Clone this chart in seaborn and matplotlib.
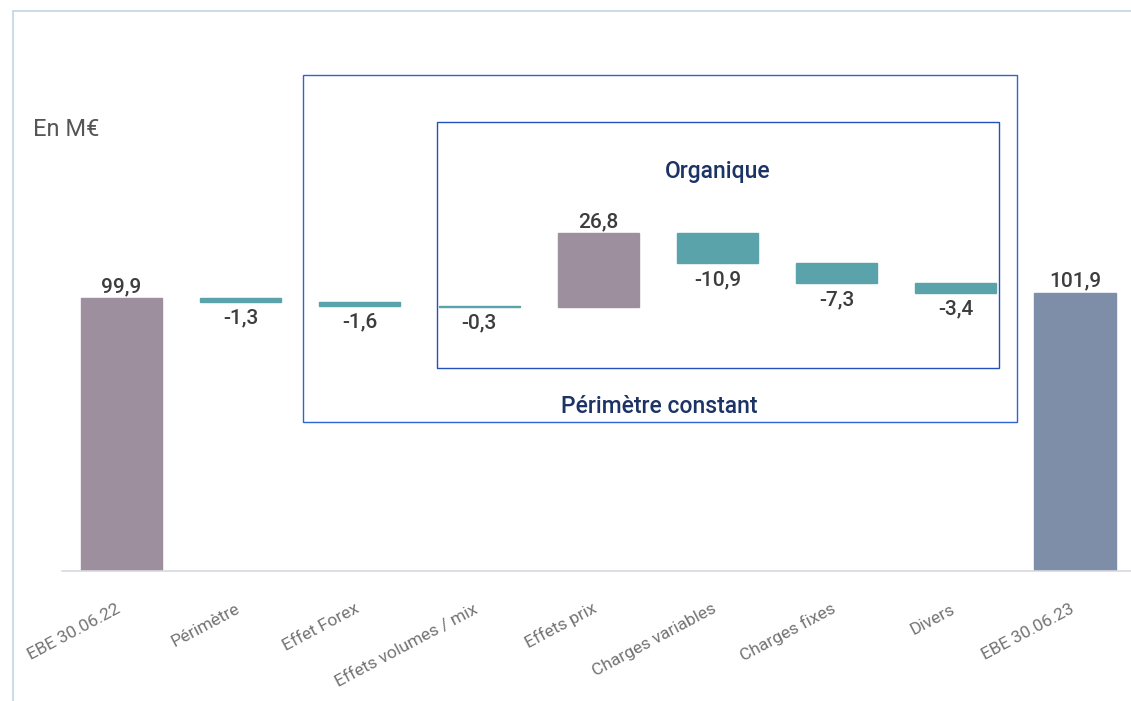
import numpy as np
import matplotlib
matplotlib.use('Agg')
import matplotlib.pyplot as plt
import seaborn as sns
from matplotlib.patches import Rectangle
from matplotlib.lines import Line2D


categories = ['EBE 30.06.22', 'Périmètre', 'Effet Forex', 'Effets volumes / mix', 'Effets prix',
              'Charges variables', 'Charges fixes', 'Divers', 'EBE 30.06.23']
values = [99.9, -1.3, -1.6, -0.3, 26.8, -10.9, -7.3, -3.4, 101.9]
is_total = [True, False, False, False, False, False, False, False, True]

PURPLE = '#9d8f9e'
TEAL = '#5ba3ab'
SLATE = '#7f8ea8'
BOX_OUT = '#2f62d2'
BOX_IN = '#2450bd'
NAVY = '#1c3366'


# waterfall: start of each bar from the running total
bottoms, heights = [], []
running = 0
for v, tot in zip(values, is_total):
    if tot:
        bottoms.append(0)
        heights.append(v)
        running = v
    else:
        bottoms.append(running)
        heights.append(v)
        running += v
colors = [PURPLE if tot or v > 0 else TEAL for v, tot in zip(values, is_total)]
colors[-1] = SLATE

sns.set_theme(style='white')
plt.rcParams['font.family'] = ['Roboto', 'DejaVu Sans']

fig = plt.figure(figsize=(11.31, 7.01), dpi=100)
ax = fig.add_axes([62/1131, 130/701, 1 - 62/1131, 560/701])

sns.barplot(x=categories, y=heights, bottom=bottoms, width=0.68, color=TEAL, ax=ax,
            linewidth=1, saturation=1)
for patch, c in zip(ax.patches, colors):
    patch.set_facecolor(c)
    patch.set_edgecolor(c)

ax.set_xlim(-0.5, 8.47)
ax.set_ylim(0, 204.9)
ax.set_yticks([])
for s in ['top', 'right', 'left']:
    ax.spines[s].set_visible(False)
ax.spines['bottom'].set_color('#d6d9de')
ax.spines['bottom'].set_linewidth(1.2)

ax.tick_params(axis='x', length=0, pad=29.5, labelsize=12.5, labelcolor='#737373')
for lab in ax.get_xticklabels():
    lab.set_rotation(28)
    lab.set_ha('right')
    lab.set_va('baseline')
    lab.set_rotation_mode('anchor')

# value labels
for i, (v, b, tot) in enumerate(zip(values, bottoms, is_total)):
    txt = f'{v:.1f}'.replace('.', ',')
    if tot or v > 0:
        ax.annotate(txt, (i, b + v), xytext=(0, 1.5), textcoords='offset points',
                    ha='center', va='bottom', fontsize=15, color='#3d3d3d', fontweight='medium')
    else:
        ax.annotate(txt, (i, b + v), xytext=(0, -5), textcoords='offset points',
                    ha='center', va='top', fontsize=15, color='#3d3d3d', fontweight='medium')

# boxes for "Périmètre constant" and "Organique"
ax.add_patch(Rectangle((2 - 0.477, 54.5), 5.99, 127.0, fill=False, edgecolor=BOX_OUT, linewidth=1.0,
                       clip_on=False))
ax.add_patch(Rectangle((3 - 0.353, 74.3), 4.715, 90.0, fill=False, edgecolor=BOX_IN, linewidth=1.0,
                       clip_on=False))
ax.text(5.0, 143.8, 'Organique', ha='center', va='baseline', fontsize=16.5, color=NAVY,
        fontweight='medium')
ax.text(4.51, 57.8, 'Périmètre constant', ha='center', va='baseline', fontsize=16.5, color=NAVY,
        fontweight='medium')

fig.text(33/1131, 1 - 136/701, 'En M€', ha='left', va='baseline', fontsize=17, color='#555555')

# light outer frame (top and left edges)
fig.add_artist(Line2D([13/1131, 1], [1 - 11/701, 1 - 11/701], color='#c3d3e3', linewidth=1.2))
fig.add_artist(Line2D([13/1131, 13/1131], [0, 1 - 11/701], color='#c3d3e3', linewidth=1.2))

fig.savefig('out.png', dpi=100)
